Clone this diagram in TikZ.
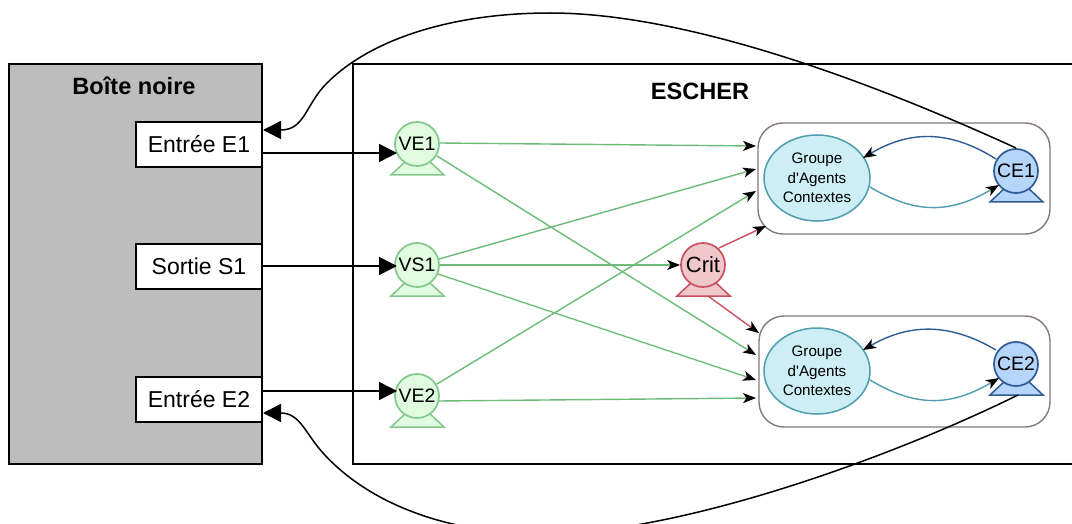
\documentclass[tikz,border=0pt]{standalone}
\usepackage{fontspec}
\setmainfont{Liberation Sans}
\newfontfamily\plainf{Liberation Sans}
\usetikzlibrary{arrows.meta,shapes.geometric}
\definecolor{grn}{HTML}{82C88A}\definecolor{grnf}{HTML}{E0FBE0}
\definecolor{grnl}{HTML}{6CBB78}
\definecolor{redd}{HTML}{C8505F}\definecolor{redf}{HTML}{F0C8CC}
\definecolor{blu}{HTML}{2F5C94}\definecolor{bluf}{HTML}{B5D5FB}
\definecolor{tea}{HTML}{4F9DAE}\definecolor{teaf}{HTML}{CDEEF5}
\definecolor{grp}{HTML}{857A7A}\definecolor{gry}{HTML}{BDBDBD}
\tikzset{
 x=1pt,y=-1pt,
 fs/.style={font=\fontsize{#1}{#1}\selectfont},
 iobox/.style={draw=black,fill=white,line width=1.5pt,minimum width=126pt,minimum height=45pt,inner sep=0,fs=23},
 agentc/.style={circle,draw=#1,line width=1.7pt,minimum size=44pt,inner sep=0,fs=19.5},
 grpbox/.style={draw=grp,line width=1.4pt,rounded corners=25pt,fill=white},
 ctx/.style={ellipse,draw=tea,fill=teaf,line width=1.5pt,minimum width=106pt,minimum height=86pt,inner sep=0,align=center,font=\plainf\fontsize{15.2}{19.5}\selectfont},
 bigarr/.style={-{Triangle[length=18pt,width=18pt,color=black,fill=black]},black,line width=1.5pt},
 smarr/.style={-{Stealth[length=13pt,width=10pt,inset=3.5pt,color=black,fill=black]},line width=1.4pt},
 grnarr/.style={smarr,draw=grnl},
 title/.style={inner sep=0,font=\fontsize{23.6}{26}\selectfont\bfseries},
}
\newcommand{\agent}[7]{% name x y text stroke fill extra
 \draw[draw=#5,fill=#6,line width=1.5pt,line join=miter] (#2-10,#3+16) -- (#2-26,#3+31) -- (#2+27,#3+31) -- (#2+11,#3+16) -- cycle;
 \node[agentc=#5,fill=#6,#7] (#1) at (#2,#3) {#4};
}
\begin{document}
\begin{tikzpicture}
\useasboundingbox (0,0) rectangle (1072,524);
\path[clip] (0,0) rectangle (1072,524);
\node[draw=black,fill=gry,line width=1.5pt,minimum width=253pt,minimum height=400pt,inner sep=0] (bb) at (135.5,264) {};
\node[draw=black,fill=white,line width=1.5pt,minimum width=760pt,minimum height=400pt,inner sep=0] (esc) at (733,264) {};
\node[title] (bbt) at (134,86) {Boîte noire};
\node[title] (esct) at (700,91) {ESCHER};
\node[iobox] (e1) at (199,144.5) {Entrée E1};
\node[iobox] (s1) at (199,266.5) {Sortie S1};
\node[iobox] (e2) at (199,399.5) {Entrée E2};
\node[grpbox,minimum width=292pt,minimum height=111pt] (g1) at (904,178.5) {};
\node[grpbox,minimum width=291pt,minimum height=111pt] (g2) at (904.5,371.5) {};
\node[ctx] (c1) at (817,178) {Groupe\\d'Agents\\Contextes};
\node[ctx] (c2) at (817,371) {Groupe\\d'Agents\\Contextes};
\agent{ve1}{417}{144}{VE1}{grn}{grnf}{}
\agent{vs1}{417}{265}{VS1}{grn}{grnf}{}
\agent{ve2}{417}{396}{VE2}{grn}{grnf}{}
\agent{crit}{703}{265}{Crit}{redd}{redf}{fs=22}
\agent{ce1}{1016}{171}{CE1}{blu}{bluf}{}
\agent{ce2}{1016}{364}{CE2}{blu}{bluf}{}
\coordinate (e1r) at (262,153);\coordinate (e1in) at (263,130);
\coordinate (s1r) at (262,266);
\coordinate (e2r) at (262,391);\coordinate (e2in) at (263,413);
\coordinate (ve1t) at (397,153);\coordinate (vs1t) at (397,266);\coordinate (ve2t) at (397,391);
\draw[bigarr] (e1r) -- (ve1t);
\draw[bigarr] (s1r) -- (vs1t);
\draw[bigarr] (e2r) -- (ve2t);
% green
\coordinate (g1a) at (756,146);\coordinate (g1b) at (756,169);\coordinate (g1c) at (756,191);
\coordinate (g2a) at (756,355);\coordinate (g2b) at (756,380);\coordinate (g2c) at (756,398);
\coordinate (ve1s) at (440,143);\coordinate (ve1d) at (437,156);
\coordinate (vs1u) at (439,259);\coordinate (vs1d) at (438,274);
\coordinate (ve2u) at (437,384);\coordinate (ve2e) at (439,401);
\draw[grnarr] (ve1s) -- (g1a);
\draw[grnarr] (ve1d) -- (g2a);
\draw[grnarr] (vs1u) -- (g1b);
\draw[grnarr] (vs1d) -- (g2b);
\draw[grnarr] (ve2u) -- (g1c);
\draw[grnarr] (ve2e) -- (g2c);
\draw[grnarr] (vs1.east) -- (crit.west);
% red
\coordinate (g1r) at (766,226);\coordinate (g2r) at (759,333);
\coordinate (cr1) at (719,248);\coordinate (cr2) at (708,296);
\draw[smarr,draw=redd] (cr1) -- (g1r);
\draw[smarr,draw=redd] (cr2) -- (g2r);
% inner loops
\coordinate (ce1b) at (996,159);\coordinate (c1b) at (863,158);
\coordinate (c1t) at (870,187);\coordinate (ce1t) at (999,185);
\draw[smarr,draw=blu] (ce1b) .. controls (950,130) and (910,130) .. (c1b);
\draw[smarr,draw=tea] (c1t) .. controls (915,214) and (950,214) .. (ce1t);
\coordinate (ce2b) at (996,350);\coordinate (c2b) at (863,350);
\coordinate (c2t) at (870,380);\coordinate (ce2t) at (999,378);
\draw[smarr,draw=blu] (ce2b) .. controls (950,323) and (910,323) .. (c2b);
\draw[smarr,draw=tea] (c2t) .. controls (915,407) and (950,407) .. (ce2t);
% long black
\coordinate (ce1top) at (1016,148);\coordinate (ce2bot) at (1018,395);
\draw[bigarr] (ce1top) .. controls (900,95) and (700,13) .. (550,13)
  .. controls (450,13) and (370,40) .. (327,83) .. controls (305,105) and (305,130) .. (e1in);
\draw[bigarr] (ce2bot) .. controls (890,458) and (680,534) .. (543,534)
  .. controls (450,534) and (370,505) .. (323,453) .. controls (305,433) and (300,413) .. (e2in);
\end{tikzpicture}
\end{document}
